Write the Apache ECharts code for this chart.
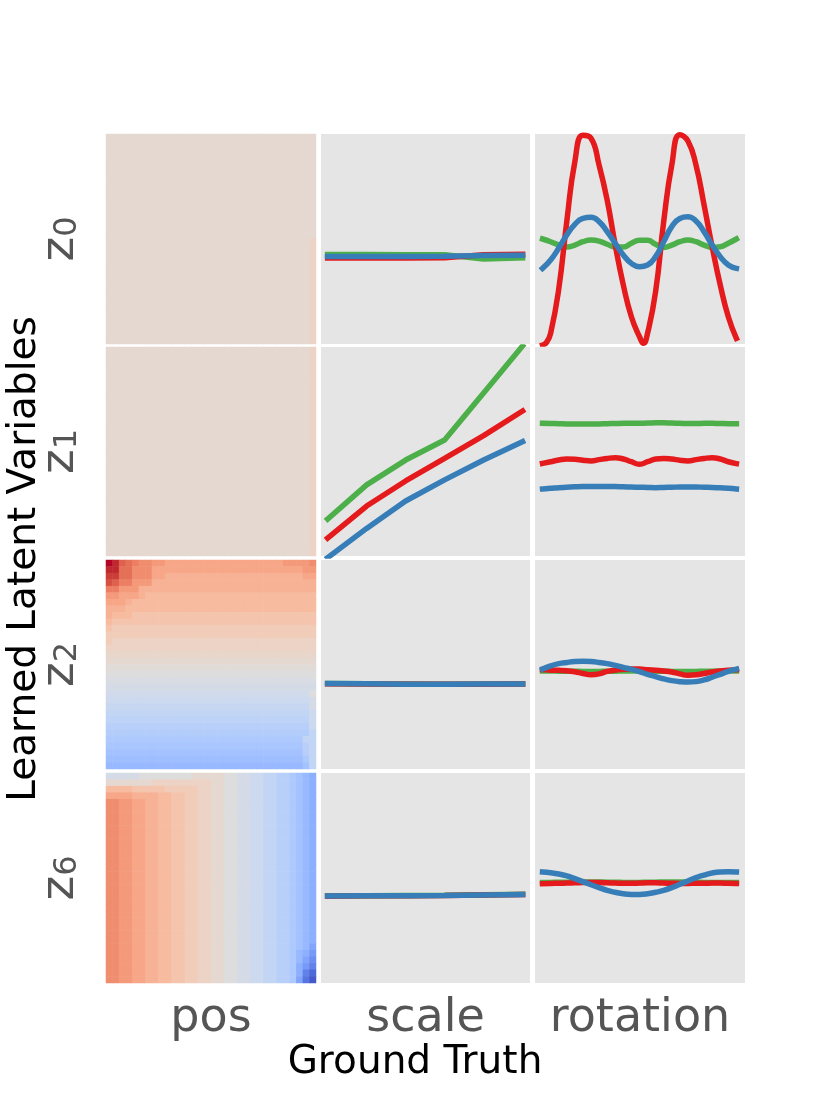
<!DOCTYPE html>
<html><head><meta charset="utf-8">
<script src="https://cdn.jsdelivr.net/npm/echarts@6/dist/echarts.min.js"></script>
<style>html,body{margin:0;padding:0;background:#fff}#chart{width:830px;height:1107px}</style>
</head><body><div id="chart"></div>
<script>
// ---------- labels ----------
const ROW_SUBSCRIPTS = ['0', '1', '2', '6'];   // latent variables z0, z1, z2, z6
const COL_LABELS = ['pos', 'scale', 'rotation'];
const X_TITLE = 'Ground Truth';
const Y_TITLE = 'Learned Latent Variables';

// ---------- x values ----------
const SCALE_X = [0.5, 0.6, 0.7, 0.8, 0.9, 1.0];
const ROT_X = [0, 15, 30, 45, 60, 75, 90, 105, 120, 135, 150, 165, 180, 195, 210, 225, 240, 255, 270, 285, 300, 315, 330, 345, 360];
const ROT_X_Z0_RED = [0, 7.5, 15, 30, 45, 60, 75, 90, 105, 120, 135, 150, 165, 180, 187.5, 195, 210, 225, 240, 255, 270, 285, 300, 315, 330, 345, 360];

// ---------- scale column (green, red, blue) ----------
const scale_z0_green = [42.6, 42.6, 42.5, 42.5, 40.5, 41.0];
const scale_z0_red   = [40.9, 40.9, 41.0, 41.1, 42.5, 42.7];
const scale_z0_blue  = [41.7, 41.7, 41.7, 41.8, 42.1, 42.2];
const scale_z1_green = [17.7, 34.0, 45.9, 55.5, 78.0, 100.5];
const scale_z1_red   = [8.5, 23.9, 35.9, 46.7, 57.6, 69.4];
const scale_z1_blue  = [-0.8, 13.2, 26.3, 36.4, 45.9, 54.7];
const scale_z2_green = [40.9, 40.8, 40.7, 40.6, 40.7, 40.8];
const scale_z2_red   = [40.8, 40.7, 40.6, 40.5, 40.6, 40.7];
const scale_z2_blue  = [40.9, 40.8, 40.6, 40.6, 40.7, 40.7];
const scale_z6_green = [41.5, 41.6, 41.7, 41.8, 42.0, 42.2];
const scale_z6_red   = [41.3, 41.5, 41.6, 41.7, 41.9, 42.1];
const scale_z6_blue  = [41.4, 41.5, 41.6, 41.7, 41.9, 42.1];

// ---------- rotation column (green, red, blue) ----------
const rot_z0_green = [50.0, 48.7, 47.1, 46.2, 47.1, 48.7, 49.5, 49.0, 47.5, 46.2, 46.2, 48.0, 49.4, 49.4, 47.5, 46.0, 47.1, 48.7, 49.5, 48.7, 47.1, 46.0, 46.3, 48.0, 50.0];
const rot_z0_red   = [-0.5, 0.8, 5.1, 26.0, 58.3, 86.8, 99.4, 98.0, 85.2, 68.6, 47.1, 28.1, 13.0, 3.5, 0.3, 5.1, 24.9, 58.3, 85.2, 99.7, 96.7, 85.2, 66.2, 46.3, 28.1, 13.0, 2.7];
const rot_z0_blue  = [36.0, 40.0, 45.6, 51.9, 57.0, 59.8, 60.3, 58.3, 53.5, 47.9, 42.4, 38.4, 36.8, 37.6, 41.6, 48.7, 55.9, 59.8, 60.6, 58.6, 53.5, 47.1, 41.6, 37.6, 36.0];
const rot_z1_green = [63.5, 63.4, 63.3, 63.2, 63.2, 63.1, 63.1, 63.2, 63.3, 63.4, 63.5, 63.5, 63.5, 63.6, 63.7, 63.7, 63.6, 63.5, 63.4, 63.4, 63.5, 63.5, 63.4, 63.3, 63.3];
const rot_z1_red   = [44.3, 45.1, 45.9, 46.4, 46.3, 45.8, 45.5, 46.1, 46.7, 47.0, 46.4, 45.1, 43.9, 45.1, 46.4, 46.7, 46.4, 45.8, 45.5, 46.1, 46.7, 47.0, 46.4, 45.1, 44.2];
const rot_z1_blue  = [32.1, 32.4, 32.7, 32.9, 33.1, 33.2, 33.2, 33.2, 33.2, 33.2, 33.1, 33.0, 32.9, 32.8, 32.7, 32.8, 32.9, 33.0, 33.0, 33.0, 32.9, 32.8, 32.6, 32.4, 32.1];
const rot_z2_green = [46.9, 46.9, 46.8, 46.8, 46.8, 46.7, 46.7, 46.7, 46.8, 46.8, 46.9, 46.9, 46.9, 46.9, 46.8, 46.8, 46.7, 46.7, 46.7, 46.7, 46.8, 46.8, 46.9, 46.9, 46.9];
const rot_z2_red   = [47.5, 47.3, 47.2, 47.0, 46.5, 45.7, 45.1, 45.5, 46.7, 47.3, 47.7, 47.8, 47.8, 47.5, 47.2, 46.9, 46.4, 45.5, 44.9, 45.1, 45.7, 46.4, 46.9, 47.2, 47.5];
const rot_z2_blue  = [47.8, 49.3, 50.4, 51.0, 51.4, 51.5, 51.4, 51.0, 50.4, 49.6, 48.6, 47.7, 46.6, 45.3, 44.2, 43.1, 42.3, 41.8, 41.6, 41.8, 42.6, 43.9, 45.3, 46.7, 47.8];
const rot_z6_green = [47.9, 47.9, 48.0, 48.0, 48.1, 48.1, 48.1, 48.1, 48.0, 48.0, 47.9, 47.9, 47.9, 48.0, 48.0, 48.1, 48.1, 48.1, 48.0, 48.0, 47.9, 47.9, 47.9, 47.9, 47.9];
const rot_z6_red   = [47.3, 47.4, 47.5, 47.6, 47.7, 47.8, 47.8, 47.8, 47.7, 47.6, 47.5, 47.5, 47.6, 47.7, 47.7, 47.6, 47.5, 47.4, 47.4, 47.5, 47.5, 47.6, 47.6, 47.5, 47.4];
const rot_z6_blue  = [52.9, 52.5, 51.9, 51.0, 49.7, 48.3, 46.8, 45.4, 44.1, 43.2, 42.5, 42.2, 42.2, 42.5, 43.2, 44.1, 45.4, 47.0, 48.6, 50.2, 51.4, 52.4, 52.9, 53.0, 52.9];

// ---------- pos column heatmaps: 32x32 levels, top row first ----------
// digit/letter = level 0..32 (0 deep blue, g neutral grey, w deep red); upper-case letter = half a level below its lower-case
const LEVEL_DIGITS = '0123456789abcdefghijklmnopqrstuvw';
const pos_z0 = [
'hhhhhhhh hhhhhhhh hhhhhhhh hhhhhhhh','hhhhhhhh hhhhhhhh hhhhhhhh hhhhhhhh','hhhhhhhh hhhhhhhh hhhhhhhh hhhhhhhh','hhhhhhhh hhhhhhhh hhhhhhhh hhhhhhhh',
'hhhhhhhh hhhhhhhh hhhhhhhh hhhhhhhh','hhhhhhhh hhhhhhhh hhhhhhhh hhhhhhhh','hhhhhhhh hhhhhhhh hhhhhhhh hhhhhhhh','hhhhhhhh hhhhhhhh hhhhhhhh hhhhhhhh',
'hhhhhhhh hhhhhhhh hhhhhhhh hhhhhhhh','hhhhhhhh hhhhhhhh hhhhhhhh hhhhhhhh','hhhhhhhh hhhhhhhh hhhhhhhh hhhhhhhh','hhhhhhhh hhhhhhhh hhhhhhhh hhhhhhhh',
'hhhhhhhh hhhhhhhh hhhhhhhh hhhhhhhh','hhhhhhhh hhhhhhhh hhhhhhhh hhhhhhhh','hhhhhhhh hhhhhhhh hhhhhhhh hhhhhhhh','hhhhhhhh hhhhhhhh hhhhhhhh hhhhhhhh',
'hhhhhhhh hhhhhhhh hhhhhhhh hhhhhhhi','hhhhhhhh hhhhhhhh hhhhhhhh hhhhhhhi','hhhhhhhh hhhhhhhh hhhhhhhh hhhhhhhi','hhhhhhhh hhhhhhhh hhhhhhhh hhhhhhhi',
'hhhhhhhh hhhhhhhh hhhhhhhh hhhhhhhi','hhhhhhhh hhhhhhhh hhhhhhhh hhhhhhhi','hhhhhhhh hhhhhhhh hhhhhhhh hhhhhhhi','hhhhhhhh hhhhhhhh hhhhhhhh hhhhhhhi',
'hhhhhhhh hhhhhhhh hhhhhhhh hhhhhhhi','hhhhhhhh hhhhhhhh hhhhhhhh hhhhhhhi','hhhhhhhh hhhhhhhh hhhhhhhh hhhhhhhi','hhhhhhhh hhhhhhhh hhhhhhhh hhhhhhhi',
'hhhhhhhh hhhhhhhh hhhhhhhh hhhhhhhi','hhhhhhhh hhhhhhhh hhhhhhhh hhhhhhhi','hhhhhhhh hhhhhhhh hhhhhhhh hhhhhhhi','hhhhhhhh hhhhhhhh hhhhhhhh hhhhhhhi'
];
const pos_z1 = [
'hhhhhhhh hhhhhhhh hhhhhhhh hhhhhhhi','hhhhhhhh hhhhhhhh hhhhhhhh hhhhhhhi','hhhhhhhh hhhhhhhh hhhhhhhh hhhhhhhi','hhhhhhhh hhhhhhhh hhhhhhhh hhhhhhhi',
'hhhhhhhh hhhhhhhh hhhhhhhh hhhhhhhi','hhhhhhhh hhhhhhhh hhhhhhhh hhhhhhhi','hhhhhhhh hhhhhhhh hhhhhhhh hhhhhhhi','hhhhhhhh hhhhhhhh hhhhhhhh hhhhhhhi',
'hhhhhhhh hhhhhhhh hhhhhhhh hhhhhhhi','hhhhhhhh hhhhhhhh hhhhhhhh hhhhhhhi','hhhhhhhh hhhhhhhh hhhhhhhh hhhhhhhi','hhhhhhhh hhhhhhhh hhhhhhhh hhhhhhhi',
'hhhhhhhh hhhhhhhh hhhhhhhh hhhhhhhi','hhhhhhhh hhhhhhhh hhhhhhhh hhhhhhhi','hhhhhhhh hhhhhhhh hhhhhhhh hhhhhhhi','hhhhhhhh hhhhhhhh hhhhhhhh hhhhhhhi',
'hhhhhhhh hhhhhhhh hhhhhhhh hhhhhhhi','hhhhhhhh hhhhhhhh hhhhhhhh hhhhhhhi','hhhhhhhh hhhhhhhh hhhhhhhh hhhhhhhi','hhhhhhhh hhhhhhhh hhhhhhhh hhhhhhhi',
'hhhhhhhh hhhhhhhh hhhhhhhh hhhhhhhi','hhhhhhhh hhhhhhhh hhhhhhhh hhhhhhhi','hhhhhhhh hhhhhhhh hhhhhhhh hhhhhhhi','hhhhhhhh hhhhhhhh hhhhhhhh hhhhhhhi',
'hhhhhhhh hhhhhhhh hhhhhhhh hhhhhhhi','hhhhhhhh hhhhhhhh hhhhhhhh hhhhhhhi','hhhhhhhh hhhhhhhh hhhhhhhh hhhhhhhi','hhhhhhhh hhhhhhhh hhhhhhhh hhhhhhhi',
'hhhhhhhh hhhhhhhh hhhhhhhh hhhhhhhi','hhhhhhhh hhhhhhhh hhhhhhhh hhhhhhhi','hhhhhhhh hhhhhhhh hhhhhhhh hhhhhhhi','hhhhhhhh hhhhhhhh hhhhhhhh hhhhhhhi'
];
const pos_z2 = [
'wvsrqppo onnnnnnn nnnnnnnn nnnoooop',
'vvrrpppn nnnnnnnn nnnnnnnn nnnnnnoo',
'uurrpppn nmmmmmmm mmmmmmmm mmmmmmnn',
'tsqqooom mmmmmmmm mmmmmmmm mmmmmmmm',
'qqooommm mmmmmmmm mmmmmmmm mmmmmmmm',
'oonnnmll llllllll llllllll llllllll',
'nnnmllll llllllll llllllll llllllll',
'mmmlllll llllllll llllllll llllllll',
'mlllkkkk kkkkkkkk kkkkkkkk kkkkkkkk',
'lkkkkkkk kkkkkkkk kkkkkkkk kkkkkkkk',
'kjjjjjjj jjjjjjjj jjjjjjjj jjjjjjjj',
'jjjjjjjj jjjjjjjj jjjjjjjj jjjjjjjj',
'jiiiiiii iiiiiiii iiiiiiii iiiiiiii',
'iiiiiiii iiiiiiii iiiiiiii iiiiiiii',
'IIIIIIII IIIIIIII IIIIIIII IIIIIIII',
'hhhhhhhh hhhhhhhh hhhhhhhh hhhhhhhh',
'HHHHHHHH HHHHHHHH HHHHHHHH HHHHHHHH',
'gggggggg gggggggg gggggggg gggggggg',
'GGGGGGGG GGGGGGGG GGGGGGGG GGGGGGGG',
'ffffffff ffffffff ffffffff ffffffff',
'FFFFFFFF FFFFFFFF FFFFFFFF FFFFFFFg',
'eeeeeeee eeeeeeee eeeeeeee eeeeeeef',
'EEEEEEEE EEEEEEEE EEEEEEEE EEEEEEEf',
'dddddddd dddddddd dddddddd ddddddde',
'DDDDDDDD DDDDDDDD DDDDDDDD DDDDDDDe',
'cccccccc cccccccc cccccccc ccccccce',
'CCCCCCCC CCCCCCCC CCCCCCCC CCCCCCCd',
'bbbbbbbb bbbbbbbb bbbbbbbb bbbbbbdd',
'BBBBBBBB BBBBBBBB BBBBBBBB BBBBBBcd',
'aaaaaaaa aaaaaaaa aaaaaaaa aaaaaacd',
'AAAAAAAA AAAAAAAA AAAAAAAA AAAAAAbd',
'99999999 99999999 99999999 999999ad'
];
const pos_z6 = [
'fffffggg ggggghhh hhggffee ddccba98',
'hhhhhhhi iiiiiiii hhggffee ddccba98',
'llllkkkk kjjjjjii hhggffee ddccba98',
'nnnnmmmm llkkjjii hhggffee ddccba98',
'ppoonnmm llkkjjii hhggffee ddccba98','ppoonnmm llkkjjii hhggffee ddccba98','ppoonnmm llkkjjii hhggffee ddccba98','ppoonnmm llkkjjii hhggffee ddccba98',
'ppoonnmm llkkjjii hhggffee ddccba98','ppoonnmm llkkjjii hhggffee ddccba98','ppoonnmm llkkjjii hhggffee ddccba98','ppoonnmm llkkjjii hhggffee ddccba98',
'ppoonnmm llkkjjii hhggffee ddccba98','ppoonnmm llkkjjii hhggffee ddccba98','ppoonnmm llkkjjii hhggffee ddccba98','ppoonnmm llkkjjii hhggffee ddccba98',
'ppoonnmm llkkjjii hhggffee ddccba98','ppoonnmm llkkjjii hhggffee ddccba98','ppoonnmm llkkjjii hhggffee ddccba98','ppoonnmm llkkjjii hhggffee ddccba98',
'ppoonnmm llkkjjii hhggffee ddccba98','ppoonnmm llkkjjii hhggffee ddccba98','ppoonnmm llkkjjii hhggffee ddccba98','ppoonnmm llkkjjii hhggffee ddccba98',
'ppoonnmm llkkjjii hhggffee ddccba98','ppoonnmm llkkjjii hhggffee ddccba98',
'ppoonnmm llkkjjii hhggffee ddccba97',
'ppoonnmm llkkjjii hhggffee ddccb986',
'ppoonnmm llkkjjii hhggffee ddccb975',
'ppoonnmm llkkjjii hhggffee ddccb864',
'ppoonnmm llkkjjii hhggffee ddccb842',
'ppoonnmm llkkjjii hhggffee ddccb731'
];

// coolwarm colour stops for levels 0..32
const COOLWARM = ['#3b4cc0','#445acc','#4d68d7','#5775e1','#6282ea','#6c8ef1','#779af7','#82a5fb','#8db0fe','#98b9ff','#a3c2ff','#aec9fd','#b8d0f9','#c2d5f4','#ccd9ee','#d5dbe6','#dddddd','#e5d8d1','#ecd3c5','#f1ccb9','#f5c4ad','#f7bba0','#f7b194','#f7a687','#f49a7b','#f18d6f','#ec7f63','#e57058','#de604d','#d55042','#cb3e38','#c0282f','#b40426'];

// ---------- assemble ----------
const POS = [pos_z0, pos_z1, pos_z2, pos_z6];
const SCALE = [[scale_z0_green, scale_z0_red, scale_z0_blue],[scale_z1_green, scale_z1_red, scale_z1_blue],[scale_z2_green, scale_z2_red, scale_z2_blue],[scale_z6_green, scale_z6_red, scale_z6_blue]];
const ROT = [[rot_z0_green, rot_z0_red, rot_z0_blue],[rot_z1_green, rot_z1_red, rot_z1_blue],[rot_z2_green, rot_z2_red, rot_z2_blue],[rot_z6_green, rot_z6_red, rot_z6_blue]];
const LINE_COLORS = ['#4daf4a', '#e41a1c', '#377eb8'];
const IDX32 = Array.from({length: 32}, (_, i) => i);

function levelOf(ch) {
  const lower = ch.toLowerCase();
  const v = LEVEL_DIGITS.indexOf(lower);
  return ch !== lower ? v - 0.5 : v;
}
function heatCells(rows) {
  const out = [];
  rows.forEach((s, r) => {
    const t = s.replace(/ /g, '');
    for (let c = 0; c < 32; c++) {
      const ch = t[c] !== undefined ? t[c] : t[t.length - 1];
      out.push([c, 31 - r, levelOf(ch)]);
    }
  });
  return out;
}

const COL_LEFT = [106, 321, 535], COL_W = [210, 209, 210];
const ROW_TOP = [134, 347, 560, 773], ROW_H = [210, 209, 209, 210];
const FONT = 'DejaVu Sans';
const xNameText = {fontSize: 46, lineHeight: 40, color: '#555555', fontFamily: FONT};
const yNameText = {color: '#555555', fontFamily: FONT, rich: {
  z: {fontSize: 47, lineHeight: 46, color: '#555555', fontFamily: FONT},
  s: {fontSize: 32, lineHeight: 24, verticalAlign: 'bottom', color: '#555555', fontFamily: FONT}
}};
const hidden = {axisLine: {show: false}, axisTick: {show: false}, axisLabel: {show: false}, splitLine: {show: false}, splitArea: {show: false}};

const grid = [], xAxis = [], yAxis = [], series = [], heatIdx = [];
for (let r = 0; r < 4; r++) {
  for (let c = 0; c < 3; c++) {
    const gi = grid.length;
    grid.push({left: COL_LEFT[c], top: ROW_TOP[r], width: COL_W[c], height: ROW_H[r], show: true,
      backgroundColor: '#e5e5e5', borderWidth: 0, containLabel: false, outerBoundsMode: 'none'});
    const xName = r === 3 ? COL_LABELS[c] : '';
    const yName = c === 0 ? '{z|z}{s|' + ROW_SUBSCRIPTS[r] + '}' : '';
    const xBase = Object.assign({gridIndex: gi, name: xName, nameLocation: 'middle', nameGap: 16, nameTextStyle: xNameText}, hidden);
    const yBase = Object.assign({gridIndex: gi, name: yName, nameLocation: 'middle', nameRotate: 90, nameGap: 22, nameTextStyle: yNameText}, hidden);
    if (c === 0) {
      xAxis.push(Object.assign({type: 'category', data: IDX32, boundaryGap: true}, xBase));
      yAxis.push(Object.assign({type: 'category', data: IDX32, boundaryGap: true}, yBase));
      heatIdx.push(series.length);
      series.push({type: 'heatmap', xAxisIndex: gi, yAxisIndex: gi, data: heatCells(POS[r]), progressive: 0, silent: true});
    } else {
      const isRot = c === 2;
      xAxis.push(Object.assign({type: 'value', min: isRot ? -14 : 0.483, max: isRot ? 376 : 1.019}, xBase));
      yAxis.push(Object.assign({type: 'value', min: 0, max: 100}, yBase));
      const sets = isRot ? ROT[r] : SCALE[r];
      sets.forEach((vals, k) => {
        let X = isRot ? ROT_X : SCALE_X;
        if (isRot && r === 0 && k === 1) X = ROT_X_Z0_RED;
        series.push({type: 'line', xAxisIndex: gi, yAxisIndex: gi, data: X.map((x, i) => [x, vals[i]]),
          showSymbol: false, symbol: 'none', smooth: isRot, silent: true, clip: true,
          lineStyle: {width: 5.5, color: LINE_COLORS[k], cap: 'square'}, itemStyle: {color: LINE_COLORS[k]}});
      });
    }
  }
}

const chart = echarts.init(document.getElementById('chart'), null, {renderer: 'canvas'});
chart.setOption({
  animation: false,
  backgroundColor: '#ffffff',
  textStyle: {fontFamily: FONT},
  grid, xAxis, yAxis, series,
  visualMap: {type: 'continuous', show: false, min: 0, max: 32, dimension: 2, seriesIndex: heatIdx, inRange: {color: COOLWARM}},
  graphic: [
    {type: 'text', x: 415, y: 1063, style: {text: X_TITLE, font: '39px "DejaVu Sans"', lineHeight: 32, fill: '#000', textAlign: 'center', textVerticalAlign: 'middle'}},
    {type: 'text', x: 25, y: 559, rotation: Math.PI / 2, style: {text: Y_TITLE, font: '39px "DejaVu Sans"', fill: '#000', textAlign: 'center', textVerticalAlign: 'middle'}}
  ]
});
</script></body></html>
